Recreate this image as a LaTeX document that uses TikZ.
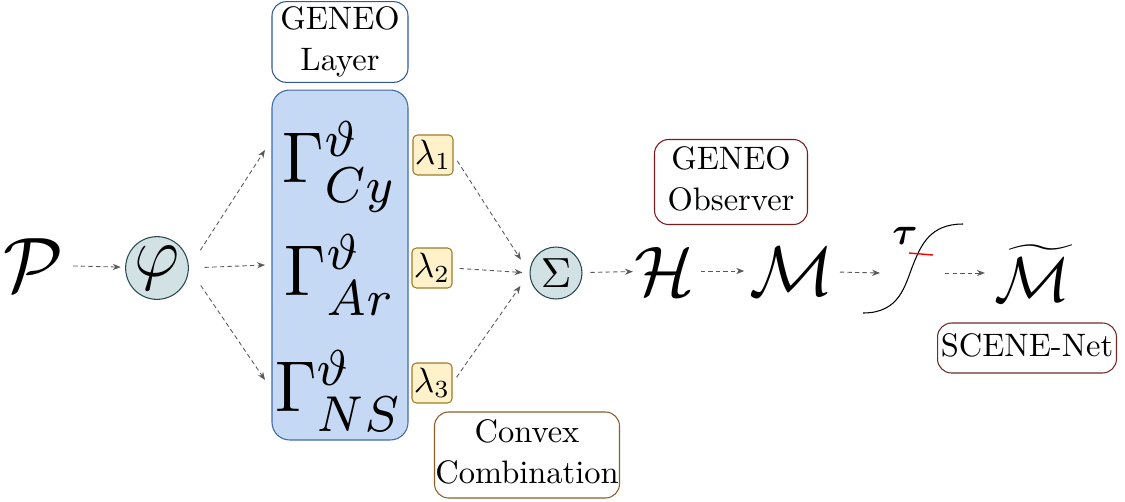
\RequirePackage{fix-cm}
\documentclass[tikz,border=0pt]{standalone}
\usepackage{amsmath}
\usepackage{graphicx}
\usepackage{tikz}
\usetikzlibrary{arrows.meta,calc}
\definecolor{layerblue}{HTML}{2E5A9C}
\definecolor{blockfill}{HTML}{C6D9F4}
\definecolor{blockdraw}{HTML}{3F6AAB}
\definecolor{circfill}{HTML}{D2E1E4}
\definecolor{circdraw}{HTML}{28484E}
\definecolor{lamfill}{HTML}{FFF1C9}
\definecolor{lamdraw}{HTML}{9E7B25}
\definecolor{convexdraw}{HTML}{8E5B2A}
\definecolor{obsdraw}{HTML}{7A1C1C}
\definecolor{netdraw}{HTML}{6F2C26}
\newcommand{\boxtext}[1]{\scalebox{1.85}{\fontsize{10}{12.4}\selectfont\begin{tabular}{@{}c@{}}#1\end{tabular}}}
\newcommand{\gen}[1]{\scalebox{3.8}[4.1]{$\Gamma^{\vartheta}_{#1}$}}
\newcommand{\bigmath}{\fontsize{40}{48}\selectfont}
\tikzset{
  flow/.style={black!65, line width=0.5pt, dash pattern=on 2.5pt off 1.8pt, -{Stealth[length=4.5pt,width=3.5pt]}},
  labelbox/.style={draw, fill=white, rounded corners=8pt, line width=0.6pt, inner sep=0pt},
  weight/.style={draw=lamdraw, fill=lamfill, rounded corners=2.5pt, line width=0.6pt, inner sep=0pt, minimum size=0.8cm},
  opcircle/.style={circle, draw=circdraw, fill=circfill, line width=0.6pt, inner sep=0pt},
  glyph/.style={inner sep=0pt, font=\bigmath}
}
\begin{document}
\begin{tikzpicture}[x=0.02cm, y=-0.02cm]
  \useasboundingbox (0,0) rectangle (1125,501);
  \node[glyph, font=\fontsize{44}{50}\selectfont] (pset) at (34,265) {$\mathcal{P}$};
  \node[opcircle, minimum size=1.24cm, font=\fontsize{40}{44}\selectfont] (phi) at (157,268) {$\varphi$};
  \node[draw=blockdraw, fill=blockfill, rounded corners=10pt, line width=0.6pt, minimum width=2.72cm, minimum height=7cm] (layer) at (340,265) {};
  \node[labelbox, draw=layerblue, minimum width=2.72cm, minimum height=1.6cm] (layertitle) at (340,42) {\boxtext{GENEO\\Layer}};
  \node[inner sep=0pt] (gcy) at (340,167) {\gen{Cy}};
  \node[inner sep=0pt] (gar) at (340,275) {\gen{Ar}};
  \node[inner sep=0pt] (gns) at (339,391) {\gen{NS}};
  \node[weight] (lam1) at (433,155) {\scalebox{2}{$\lambda_1$}};
  \node[weight] (lam2) at (432,268) {\scalebox{2}{$\lambda_2$}};
  \node[weight] (lam3) at (432,383) {\scalebox{2}{$\lambda_3$}};
  \node[labelbox, draw=convexdraw, minimum width=3.7cm, minimum height=1.72cm] (convex) at (527,455) {\boxtext{Convex\\Combination}};
  \node[opcircle, minimum size=1.04cm] (sum) at (556,273) {\scalebox{2.4}{$\Sigma$}};
  \node[glyph] (hist) at (665,271) {$\mathcal{H}$};
  \node[glyph] (mset) at (792,271) {$\mathcal{M}$};
  \node[labelbox, draw=obsdraw, minimum width=3.06cm, minimum height=1.7cm] (observer) at (731,182) {\boxtext{GENEO\\Observer}};
  \node[inner sep=0pt, font=\fontsize{22}{26}\selectfont] (thr) at (905,236) {$\boldsymbol{\tau}$};
  \node[glyph, font=\fontsize{36}{40}\selectfont] (mout) at (1032,273) {$\widetilde{\mathcal{M}}$};
  \node[labelbox, draw=netdraw, minimum width=3.58cm, minimum height=1cm] (net) at (1027,348) {\boxtext{SCENE-Net}};
  \draw[line width=0.6pt] (863,313) .. controls (900,313) and (905,285) .. (913,265) .. controls (921,245) and (930,224) .. (963,224);
  \draw[red, line width=0.8pt] (909,253) -- (933,255);
  \coordinate (incy) at (265,150);
  \coordinate (inar) at (265,265);
  \coordinate (inns) at (265,380);
  \coordinate (sigin) at (880,273);
  \coordinate (sigout) at (945,273);
  \draw[flow, shorten <=5pt, shorten >=2.5pt] (pset) -- (phi);
  \draw[flow, shorten <=12pt] (phi.east) -- (incy);
  \draw[flow, shorten <=9pt] (phi.east) -- (inar);
  \draw[flow, shorten <=12pt] (phi.east) -- (inns);
  \draw[flow, shorten <=4pt, shorten >=9pt] (lam1.east) -- (sum.west);
  \draw[flow, shorten <=4pt, shorten >=4pt] (lam2.east) -- (sum.west);
  \draw[flow, shorten <=4pt, shorten >=9pt] (lam3.east) -- (sum.west);
  \draw[flow, shorten <=4.5pt, shorten >=1pt] (sum) -- (hist);
  \draw[flow, shorten <=3pt, shorten >=3pt] (hist) -- (mset);
  \draw[flow, shorten <=3pt] (mset) -- (sigin);
  \draw[flow, shorten >=5pt] (sigout) -- (mout);
\end{tikzpicture}
\end{document}
